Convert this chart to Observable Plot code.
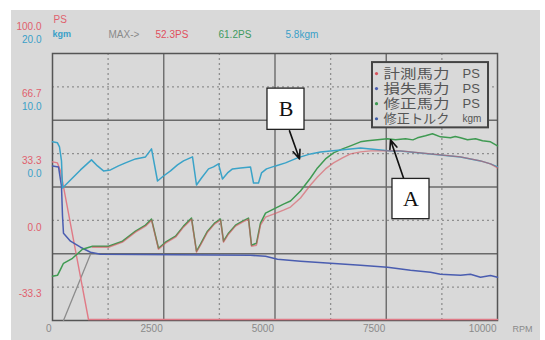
<!DOCTYPE html>
<html>
<head>
<meta charset="utf-8">
<script src="https://cdn.jsdelivr.net/npm/d3@7"></script>
<script src="https://cdn.jsdelivr.net/npm/@observablehq/plot@0.6"></script>
<style>
  html, body { margin: 0; padding: 0; background: #ffffff; }
  #chart { width: 545px; height: 340px; }
</style>
</head>
<body>
<div id="chart"></div>
<script>
// ---------- data (RPM, PS) ----------
const rpmTicks = [0, 2500, 5000, 7500, 10000];
const rpmMinor = [1250, 3750, 6250, 8750];
const psMajor = [50, 16.667, -16.667];
const psMinor = [66.667, 33.333, 0, -33.333];
const psTickValues = [100, 66.667, 33.333, 0, -33.333];
const psTickLabels = ["100.0", "66.7", "33.3", "0.0", "-33.3"];
const kgmTickValues = [20, 10, 0];
const kgmTickLabels = ["20.0", "10.0", "0.0"];

// 修正馬力 (corrected power, PS)
const correctedPS = [
  [0,-27.95],[112,-27.45],[180,-24.44],[247,-21.43],[449,-18.93],[674,-14.41],[899,-12.91],
  [1258,-12.91],[1573,-10.40],[1865,-5.39],[2090,-2.38],[2225,0.62],[2382,-13.91],[2539,-10.90],
  [2764,-7.90],[2944,-2.88],[3124,1.13],[3236,-15.42],[3326,-11.91],[3483,-5.39],[3640,-1.38],
  [3775,0.62],[3843,-10.40],[3955,-6.39],[4112,-2.38],[4270,-0.38],[4404,1.13],[4472,-12.41],
  [4584,-11.40],[4674,-1.38],[4787,3.63],[4966,5.64],[5191,8.14],[5348,9.65],[5573,14.66],
  [5798,21.17],[5955,26.19],[6135,30.70],[6315,33.71],[6517,35.71],[6697,37.22],[6921,39.22],
  [7079,39.72],[7303,40.22],[7528,40.72],[7708,40.22],[7933,40.72],[8100,40.2],[8202,41.22],
  [8382,42.23],[8539,43.23],[8719,41.72],[8944,41.22],[9050,41.9],[9169,41.22],[9326,40.22],
  [9506,40.72],[9663,39.72],[9843,39.22],[10000,37.22]
];
// 計測馬力 (measured power, PS)
const measuredPS = [
  [899,-13.41],[1258,-13.41],[1573,-10.90],[1865,-5.89],[2090,-2.88],[2225,0.12],[2382,-14.41],
  [2539,-11.40],[2764,-8.40],[2944,-3.38],[3124,0.62],[3236,-15.92],[3326,-12.41],[3483,-5.89],
  [3640,-1.88],[3775,0.12],[3843,-10.90],[3955,-6.89],[4112,-2.88],[4270,-0.88],[4404,0.62],
  [4472,-12.91],[4584,-12.41],[4674,-2.38],[4787,1.63],[4966,3.13],[5191,5.14],[5348,6.64],
  [5573,11.15],[5798,17.67],[5955,21.68],[6135,25.69],[6315,28.69],[6517,31.20],[6697,33.21],
  [6921,34.21],[7146,34.71],[7528,34.71],[7820,34.71],[8270,33.71],[8719,32.71],[9169,31.70],
  [9393,30.70],[9618,29.70],[9843,28.19],[10000,26.19]
];
// 計測馬力 start-up / run-down trace
const measuredStartPS = [[0,29.20],[112,28.69],[180,24.68],[809,-49.5],[10000,-49.5]];
// 損失馬力 (loss power, PS)
const lossPS = [
  [0,27.19],[135,26.69],[202,17.16],[225,2.13],[247,-6.39],[404,-10.40],[629,-13.41],[854,-15.92],
  [1079,-16.92],[4449,-17.42],[4787,-17.92],[5056,-19.43],[5573,-20.43],[6247,-21.43],[6921,-22.44],
  [7528,-23.44],[8045,-24.94],[8494,-25.95],[8719,-26.95],[9169,-27.45],[9393,-26.9],[9618,-28.4],
  [9843,-27.5],[10000,-28.45]
];
// auxiliary grey trace
const auxPS = [[247,-50],[854,-16.92]];
// 修正トルク (corrected torque, kgm)
const torqueKgm = [
  [0,1.77],[112,1.62],[157,1.02],[202,-1.09],[225,-5.15],[404,-3.95],[629,-2.44],[876,-0.94],
  [1011,-1.84],[1146,-2.59],[1303,-2.44],[1483,-1.84],[1640,-1.39],[1865,-0.79],[2090,-0.49],
  [2225,0.71],[2360,-4.10],[2494,-3.35],[2652,-2.59],[2809,-1.69],[2944,-1.09],[3146,-0.49],
  [3236,-4.70],[3348,-3.65],[3506,-2.29],[3618,-1.99],[3730,-1.54],[3820,-3.80],[3933,-2.89],
  [4045,-2.29],[4225,-2.14],[4449,-1.99],[4517,-4.40],[4629,-4.40],[4697,-2.89],[4809,-2.29],
  [5011,-1.84],[5236,-1.39],[5506,-0.64],[5798,-0.04],[6022,0.26],[6247,0.41],[6472,0.56],
  [6697,0.71],[6921,0.86],[7146,0.71],[7371,0.56],[7596,0.41],[7820,0.41],[8270,0.11],
  [8719,-0.19],[9169,-0.49],[9393,-0.79],[9618,-1.09],[9843,-1.54],[10000,-1.99]
];
const kgmToPs = k => 33.333 + k * 3.3333;

// header / legend / annotation texts
const headerUnits = ["PS", "kgm"];
const maxLabels = ["MAX->", "52.3PS", "61.2PS", "5.8kgm"];
const legendNames = ["計測馬力", "損失馬力", "修正馬力", "修正トルク"];
const legendUnits = ["PS", "PS", "PS", "kgm"];
const legendRows = [73.3, 65.8, 58.3, 50.75];           // PS position of each legend row
const legendBox = [{x1: 7191, x2: 9798, y1: 78.8, y2: 46.2}];
const callouts = [
  {label: "B", x1: 4831, x2: 5663, y1: 65.8, y2: 45.2, tx: 5247, ty: 55.5, ax1: 5326, ay1: 44.7, ax2: 5551, ay2: 30.7},
  {label: "A", x1: 7640, x2: 8472, y1: 20.7, y2: 0.6, tx: 8056, ty: 10.6, ax1: 7888, ay1: 21.2, ax2: 7596, ay2: 40.2}
];

// ---------- styles ----------
const RED = "#d9545e", GREEN = "#3f9a52", BLUE = "#4a5db0", CYAN = "#3aa3c8", GREY = "#8c8c8c";
const legendColors = [RED, BLUE, GREEN, "#3f5da8"];
const maxColors = ["#8a8a8a", "#e0505e", "#3f9a60", "#3aa0c8"];
const maxDx = [56, 103, 166, 233];
const FONT = "Liberation Sans, Arial, sans-serif";

const chart = Plot.plot({
  width: 545,
  height: 340,
  marginLeft: 52,
  marginRight: 48,
  marginTop: 53,
  marginBottom: 20,
  x: {domain: [0, 10000], axis: null},
  y: {domain: [-50, 83.333], axis: null},
  style: {
    background: "linear-gradient(#d9d9d9,#d9d9d9) 11px 10px / 529px 330px no-repeat, #ffffff",
    fontFamily: FONT,
    overflow: "visible"
  },
  marks: [
    // grid
    Plot.ruleX(rpmMinor, {stroke: "#8f8f8f", strokeWidth: 1.3, strokeDasharray: "2,3"}),
    Plot.ruleY(psMinor, {stroke: "#8f8f8f", strokeWidth: 1.3, strokeDasharray: "2,3"}),
    Plot.ruleX(rpmTicks.slice(1, -1), {stroke: "#6a6a6a", strokeWidth: 1.4}),
    Plot.ruleY(psMajor, {stroke: "#6a6a6a", strokeWidth: 1.4}),
    Plot.frame({stroke: "#555", strokeWidth: 1.5}),

    // series
    Plot.line(auxPS, {x: d => d[0], y: d => d[1], stroke: GREY, strokeWidth: 1.3}),
    Plot.line(measuredStartPS, {x: d => d[0], y: d => d[1], stroke: "#e07a86", strokeWidth: 1.4}),
    Plot.line(lossPS, {x: d => d[0], y: d => d[1], stroke: BLUE, strokeWidth: 1.5}),
    Plot.line(correctedPS, {x: d => d[0], y: d => d[1], stroke: GREEN, strokeWidth: 1.5}),
    Plot.line(torqueKgm, {x: d => d[0], y: d => kgmToPs(d[1]), stroke: CYAN, strokeWidth: 1.5}),
    Plot.line(measuredPS, {x: d => d[0], y: d => d[1], stroke: RED, strokeWidth: 1.4, strokeOpacity: 0.6}),

    // left axis labels
    Plot.text(psTickLabels, {y: (d, i) => psTickValues[i], frameAnchor: "left", textAnchor: "end", dx: -11, dy: 7, fill: "#e0606c", fontSize: 10}),
    Plot.text(kgmTickLabels, {y: (d, i) => kgmToPs(kgmTickValues[i]), frameAnchor: "left", textAnchor: "end", dx: -11, dy: 20, fill: "#3aa0c8", fontSize: 10}),
    // bottom axis labels
    Plot.text(rpmTicks, {x: d => d, text: d => String(d), frameAnchor: "bottom", textAnchor: "end", dx: -1, dy: 11, fill: "#8a8a8a", fontSize: 10}),
    Plot.text(["RPM"], {frameAnchor: "bottom-right", textAnchor: "start", dx: 15, dy: 11, fill: "#8a8a8a", fontSize: 9}),

    // header
    Plot.text([headerUnits[0]], {frameAnchor: "top-left", textAnchor: "start", dx: 1, dy: -38, fill: "#e0606c", fontSize: 10}),
    Plot.text([headerUnits[1]], {frameAnchor: "top-left", textAnchor: "start", dx: 0, dy: -23, fill: "#3aa0c8", fontSize: 9, fontWeight: "bold"}),
    ...maxLabels.map((label, i) =>
      Plot.text([label], {frameAnchor: "top-left", textAnchor: "start", dx: maxDx[i], dy: -23, fill: maxColors[i], fontSize: 10})
    ),

    // legend
    Plot.rect(legendBox, {x1: "x1", x2: "x2", y1: "y1", y2: "y2", fill: "#d9d9d9", stroke: "#444", strokeWidth: 2}),
    Plot.dot(legendNames, {x: 7281, y: (d, i) => legendRows[i], r: 1.6, fill: (d, i) => legendColors[i], stroke: null}),
    Plot.text(legendNames, {x: 7438, y: (d, i) => legendRows[i], textAnchor: "start", fill: "#555", fontSize: 13, fontFamily: "Liberation Sans, 'Noto Sans CJK JP', sans-serif"}),
    Plot.text(legendUnits, {x: 9213, y: (d, i) => legendRows[i], textAnchor: "start", fill: "#555", fontSize: (d) => d === "kgm" ? 10 : 13, fontFamily: FONT}),

    // call-outs
    Plot.arrow(callouts, {x1: "ax1", y1: "ay1", x2: "ax2", y2: "ay2", stroke: "#111", strokeWidth: 1.6, headLength: 9, headAngle: 45}),
    Plot.rect(callouts, {x1: "x1", x2: "x2", y1: "y1", y2: "y2", fill: "white", stroke: "#222", strokeWidth: 1.3}),
    Plot.text(callouts, {x: "tx", y: "ty", text: "label", fill: "#111", fontSize: 22, fontFamily: "Liberation Serif, DejaVu Serif, serif"})
  ]
});
// stretch the Japanese legend names to the width they take in the original
d3.select(chart).selectAll("text")
  .filter(function () { return legendNames.includes(this.textContent); })
  .attr("textLength", 66)
  .attr("lengthAdjust", "spacingAndGlyphs");
document.getElementById("chart").appendChild(chart);
</script>
</body>
</html>
